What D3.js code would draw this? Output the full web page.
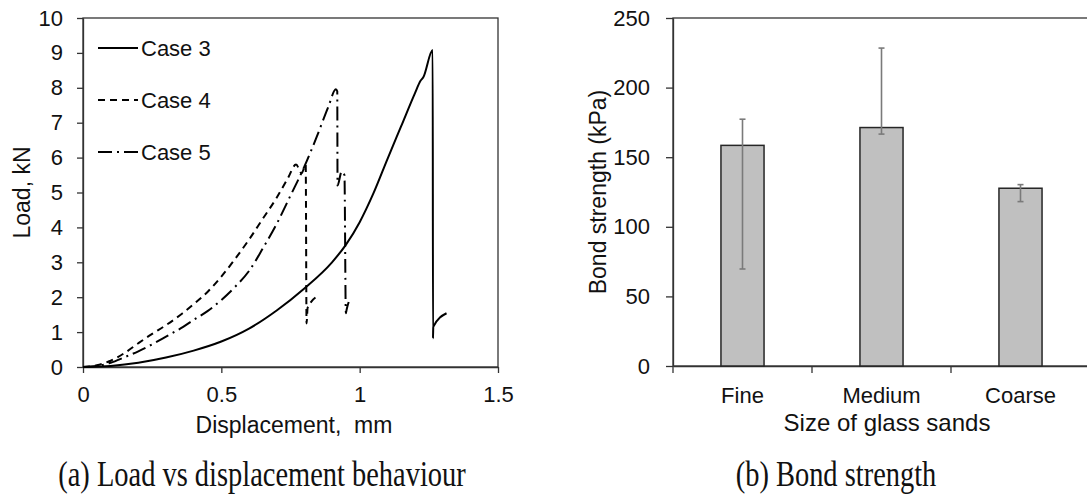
<!DOCTYPE html>
<meta charset="utf-8">
<style>
body { margin: 0; background: #fff; }
svg text { font-family: "Liberation Sans", Arial, sans-serif; fill: #111; }
.axis path, .axis line { stroke: #333; stroke-width: 1.3px; }
.axis text { font-size: 22px; }
.cap { font-family: "Liberation Serif", "Times New Roman", serif !important; }
</style>
<svg width="1087" height="496"></svg>
<script src="https://d3js.org/d3.v7.min.js"></script>
<script>
// ---- data: load vs displacement ----
var dispCase3 = [0, 0.1, 0.2, 0.3, 0.4, 0.5, 0.6, 0.7, 0.8, 0.9, 0.95, 1.0, 1.05, 1.1, 1.15, 1.2, 1.22, 1.23, 1.264, 1.265, 1.266, 1.314];
var loadCase3 = [0, 0.03, 0.12, 0.27, 0.47, 0.73, 1.1, 1.62, 2.25, 3.0, 3.5, 4.15, 4.98, 5.95, 6.9, 7.85, 8.2, 8.3, 9.08, 0.82, 1.15, 1.54];
var dispCase4 = [0, 0.05, 0.1, 0.15, 0.2, 0.25, 0.3, 0.36, 0.4, 0.45, 0.5, 0.55, 0.6, 0.65, 0.7, 0.74, 0.77, 0.79, 0.805, 0.808, 0.812, 0.855];
var loadCase4 = [0, 0.05, 0.18, 0.4, 0.68, 0.95, 1.2, 1.54, 1.8, 2.15, 2.59, 3.1, 3.65, 4.25, 4.85, 5.4, 5.8, 5.55, 5.8, 1.25, 1.7, 2.06];
var dispCase5 = [0, 0.05, 0.1, 0.15, 0.2, 0.25, 0.3, 0.362, 0.4, 0.45, 0.5, 0.55, 0.6, 0.65, 0.7, 0.748, 0.8, 0.845, 0.887, 0.914, 0.919, 0.92, 0.935, 0.945, 0.95, 0.953, 0.965];
var loadCase5 = [0, 0.03, 0.12, 0.28, 0.45, 0.65, 0.87, 1.15, 1.35, 1.6, 1.92, 2.3, 2.75, 3.4, 4.1, 4.88, 5.74, 6.6, 7.46, 7.96, 7.9, 5.2, 5.6, 5.5, 1.54, 1.65, 1.97];
var caseNames = ["Case 3", "Case 4", "Case 5"];
var xTicksA = [0, 0.5, 1, 1.5];
var yTicksA = [0, 1, 2, 3, 4, 5, 6, 7, 8, 9, 10];

// ---- data: bond strength ----
var sandSizes = ["Fine", "Medium", "Coarse"];
var bondMean = [158.5, 171.3, 127.7];
var bondHigh = [177.3, 228.4, 130.3];
var bondLow = [69.7, 166.6, 118.1];
var yTicksB = [0, 50, 100, 150, 200, 250];

var svg = d3.select("svg");

// ================= (a) =================
var A = {left: 83, top: 18, right: 498, bottom: 367};
var xA = d3.scaleLinear().domain([0, 1.5]).range([A.left, A.right]);
var yA = d3.scaleLinear().domain([0, 10]).range([A.bottom, A.top]);

svg.append("rect")
  .attr("x", A.left).attr("y", A.top)
  .attr("width", A.right - A.left).attr("height", A.bottom - A.top)
  .attr("fill", "none").attr("stroke", "#333").attr("stroke-width", 1.3);

svg.append("g").attr("class", "axis")
  .attr("transform", "translate(0," + A.bottom + ")")
  .call(d3.axisBottom(xA).tickValues(xTicksA).tickSize(6).tickSizeOuter(0).tickPadding(13)
    .tickFormat(function(d){ return d3.format("")(d); }));

svg.append("g").attr("class", "axis")
  .attr("transform", "translate(" + A.left + ",0)")
  .call(d3.axisLeft(yA).tickValues(yTicksA).tickSize(6).tickSizeOuter(0).tickPadding(14));

var line = d3.line()
  .x(function(d){ return xA(d[0]); })
  .y(function(d){ return yA(d[1]); })
  .curve(d3.curveMonotoneX);
var series = [
  {name: caseNames[0], x: dispCase3, y: loadCase3, dash: null},
  {name: caseNames[1], x: dispCase4, y: loadCase4, dash: "7,5"},
  {name: caseNames[2], x: dispCase5, y: loadCase5, dash: "14,5,2,5"}
];
series.forEach(function(s){
  var pts = s.x.map(function(v, i){ return [v, s.y[i]]; });
  svg.append("path").datum(pts)
    .attr("d", line)
    .attr("fill", "none").attr("stroke", "#000").attr("stroke-width", 2)
    .attr("stroke-dasharray", s.dash);
});

// legend
var leg = svg.append("g");
series.forEach(function(s, i){
  var ly = 48 + i * 52;
  leg.append("line").attr("x1", 98).attr("x2", 138).attr("y1", ly).attr("y2", ly)
    .attr("stroke", "#000").attr("stroke-width", 2).attr("stroke-dasharray", s.dash);
  leg.append("text").attr("x", 141).attr("y", ly).attr("dy", "0.35em")
    .style("font-size", "22px").text(s.name);
});

svg.append("text")
  .attr("transform", "translate(30," + (A.top + A.bottom) / 2 + ") rotate(-90)")
  .attr("text-anchor", "middle").style("font-size", "23px").text("Load, kN");
svg.append("text")
  .attr("x", 294).attr("y", 433)
  .attr("text-anchor", "middle").style("font-size", "23px").text("Displacement,\u00a0 mm");

// ================= (b) =================
var B = {left: 673, top: 18, right: 1090, bottom: 366};
var xB = d3.scaleBand().domain(sandSizes).range([B.left, B.right]).padding(0);
var yB = d3.scaleLinear().domain([0, 250]).range([B.bottom, B.top]);

svg.append("rect")
  .attr("x", B.left).attr("y", B.top)
  .attr("width", B.right - B.left).attr("height", B.bottom - B.top)
  .attr("fill", "none").attr("stroke", "#333").attr("stroke-width", 1.3);

var gxB = svg.append("g").attr("class", "axis")
  .attr("transform", "translate(0," + B.bottom + ")")
  .call(d3.axisBottom(xB).tickSize(0).tickSizeOuter(0).tickPadding(21));
// category divider ticks
gxB.selectAll(".sep").data(sandSizes).enter().append("line")
  .attr("class", "sep")
  .attr("x1", function(d){ return xB(d); }).attr("x2", function(d){ return xB(d); })
  .attr("y1", 0).attr("y2", 7);

svg.append("g").attr("class", "axis")
  .attr("transform", "translate(" + B.left + ",0)")
  .call(d3.axisLeft(yB).tickValues(yTicksB).tickSize(7).tickSizeOuter(0).tickPadding(16));

var bw = xB.bandwidth() * 0.31;
svg.selectAll(".bar").data(sandSizes).enter().append("rect")
  .attr("class", "bar")
  .attr("x", function(d){ return xB(d) + xB.bandwidth() / 2 - bw / 2; })
  .attr("width", bw)
  .attr("y", function(d, i){ return yB(bondMean[i]); })
  .attr("height", function(d, i){ return yB(0) - yB(bondMean[i]); })
  .attr("fill", "#c0c0c0").attr("stroke", "#262626").attr("stroke-width", 1.5);

var err = svg.append("g").attr("stroke", "#7a7a7a").attr("stroke-width", 1.6);
sandSizes.forEach(function(d, i){
  var cx = xB(d) + xB.bandwidth() / 2;
  err.append("line").attr("x1", cx).attr("x2", cx).attr("y1", yB(bondHigh[i])).attr("y2", yB(bondLow[i]));
  [bondHigh[i], bondLow[i]].forEach(function(v){
    err.append("line").attr("x1", cx - 3).attr("x2", cx + 3).attr("y1", yB(v)).attr("y2", yB(v));
  });
});

svg.append("text")
  .attr("transform", "translate(606," + (B.top + B.bottom) / 2 + ") rotate(-90)")
  .attr("text-anchor", "middle").style("font-size", "23px").text("Bond strength (kPa)");
svg.append("text")
  .attr("x", 887).attr("y", 431)
  .attr("text-anchor", "middle").style("font-size", "24px").text("Size of glass sands");

// captions
svg.append("text").attr("class", "cap")
  .attr("transform", "translate(262,486) scale(0.79,1)")
  .attr("text-anchor", "middle").style("font-size", "36px").text("(a) Load vs displacement behaviour");
svg.append("text").attr("class", "cap")
  .attr("transform", "translate(836,486) scale(0.79,1)")
  .attr("text-anchor", "middle").style("font-size", "36px").text("(b) Bond strength");
</script>
